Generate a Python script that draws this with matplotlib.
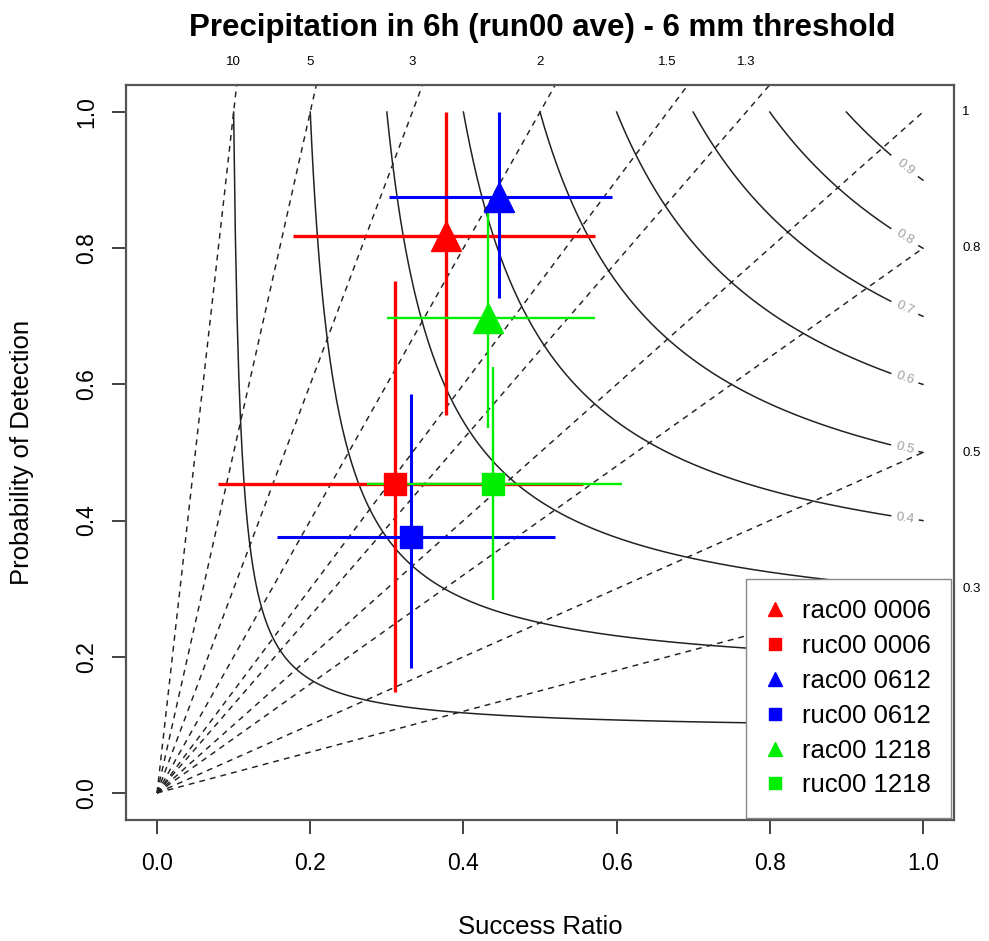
import matplotlib
matplotlib.use("Agg")
import matplotlib.pyplot as plt
from matplotlib.lines import Line2D
import numpy as np

plt.rcParams['font.family'] = ['Liberation Sans', 'DejaVu Sans']

# scores (success ratio / POD with their ranges)
labels = ["rac00 0006", "ruc00 0006", "rac00 0612", "ruc00 0612", "rac00 1218", "ruc00 1218"]
sr = [0.377, 0.311, 0.446, 0.332, 0.432, 0.439]
pod = [0.818, 0.454, 0.875, 0.376, 0.698, 0.454]
sr_lo = [0.178, 0.080, 0.303, 0.157, 0.300, 0.274]
sr_hi = [0.572, 0.556, 0.594, 0.520, 0.572, 0.607]
pod_lo = [0.555, 0.148, 0.727, 0.184, 0.536, 0.283]
pod_hi = [1.0, 0.752, 1.0, 0.586, 0.859, 0.626]

bias = [0.3, 0.5, 0.8, 1, 1.3, 1.5, 2, 3, 5, 10]
csi_levels = [0.1, 0.2, 0.3, 0.4, 0.5, 0.6, 0.7, 0.8, 0.9]
csi_labelled = [0.4, 0.5, 0.6, 0.7, 0.8, 0.9]  # the lower ones sit under the legend

run_color = {"0006": "#ff0000", "0612": "#0000ff", "1218": "#00ee00"}
run_lw = {"0006": 2.4, "0612": 2.2, "1218": 1.7}
model_marker = {"rac00": "^", "ruc00": "s"}
marker_size = {"^": 22, "s": 16}
legend_size = {"^": 10, "s": 8.5}

fig = plt.figure(figsize=(9.89, 9.41), dpi=100)
W, H = 989, 941
ax = fig.add_axes([126.4 / W, 1 - 820.2 / H, 827.2 / W, 735.4 / H])
ax.set_xlim(-0.04, 1.04)
ax.set_ylim(-0.04, 1.04)
ax.autoscale(False)

# frequency bias lines
for b in bias:
    ax.plot([0, 1], [0, b], color='#222222', lw=1.05, ls=(0, (4, 3.5)), zorder=1)
    if b > 1:
        ax.text(1 / b, 1.073, f"{b:g}", ha='center', va='center', fontsize=9.5, clip_on=False)
    else:
        ax.text(1.051, b, f"{b:g}", ha='left', va='center', fontsize=9.5, clip_on=False)

# critical success index contours, label near the right end
for c in csi_levels:
    s = np.linspace(c, 1, 400)
    p = 1 / (1 / c + 1 - 1 / s)
    a = s <= 0.958
    e = s >= 0.994
    ax.plot(s[a], p[a], color='#222222', lw=1.1, zorder=1)
    ax.plot(s[e], p[e], color='#222222', lw=1.1, zorder=1)
    if c in csi_labelled:
        sm = 0.977
        pm = 1 / (1 / c + 1 - 1 / sm)
        p1 = ax.transData.transform((0.965, 1 / (1 / c + 1 - 1 / 0.965)))
        p2 = ax.transData.transform((0.99, 1 / (1 / c + 1 - 1 / 0.99)))
        ang = np.degrees(np.arctan2(p2[1] - p1[1], p2[0] - p1[0]))
        ax.text(sm, pm, f"{c:g}", color='#a0a0a0', fontsize=9.5, ha='center', va='center',
                rotation=ang, rotation_mode='anchor', zorder=2)

# points with ranges
handles = []
for i, lab in enumerate(labels):
    model, run = lab.split()
    col = run_color[run]
    mk = model_marker[model]
    ax.errorbar(sr[i], pod[i],
                xerr=[[sr[i] - sr_lo[i]], [sr_hi[i] - sr[i]]],
                yerr=[[pod[i] - pod_lo[i]], [pod_hi[i] - pod[i]]],
                fmt=mk, color=col, ms=marker_size[mk], mec=col,
                elinewidth=run_lw[run], capsize=0, zorder=3)
    handles.append(Line2D([], [], ls='none', marker=mk, color=col, ms=legend_size[mk]))

leg = ax.legend(handles, labels, loc='lower right', bbox_to_anchor=(0.997, 0.003),
                borderaxespad=0, fancybox=False, edgecolor='#888888', framealpha=1,
                fontsize=18.5, labelspacing=0.42, borderpad=0.8,
                handlelength=0.6, handletextpad=0.75)
leg.get_frame().set_linewidth(1.0)
leg.set_zorder(5)

ticks = [0.0, 0.2, 0.4, 0.6, 0.8, 1.0]
ax.set_xticks(ticks)
ax.set_yticks(ticks)
ax.set_xticklabels([f"{t:.1f}" for t in ticks])
ax.set_yticklabels([f"{t:.1f}" for t in ticks], rotation=90, va='center')
ax.tick_params(length=10, width=1.3, color='#333333', labelsize=16.5)
ax.tick_params(axis='x', pad=13)
ax.tick_params(axis='y', pad=10)
for sp in ax.spines.values():
    sp.set_color('#555555')
    sp.set_linewidth(1.6)

ax.set_xlabel("Success Ratio", fontsize=18.5)
ax.xaxis.set_label_coords(0.5, -0.1452)
ax.xaxis.label.set_va('center')
ax.set_ylabel("Probability of Detection", fontsize=18.5)
ax.yaxis.set_label_coords(-0.1260, 0.5)
ax.yaxis.label.set_va('center')

fig.text(542 / W, 1 - 36 / H, "Precipitation in 6h (run00 ave) - 6 mm threshold",
         ha='center', va='baseline', fontsize=22.5, fontweight='bold')

fig.savefig("out.png", dpi=100)
